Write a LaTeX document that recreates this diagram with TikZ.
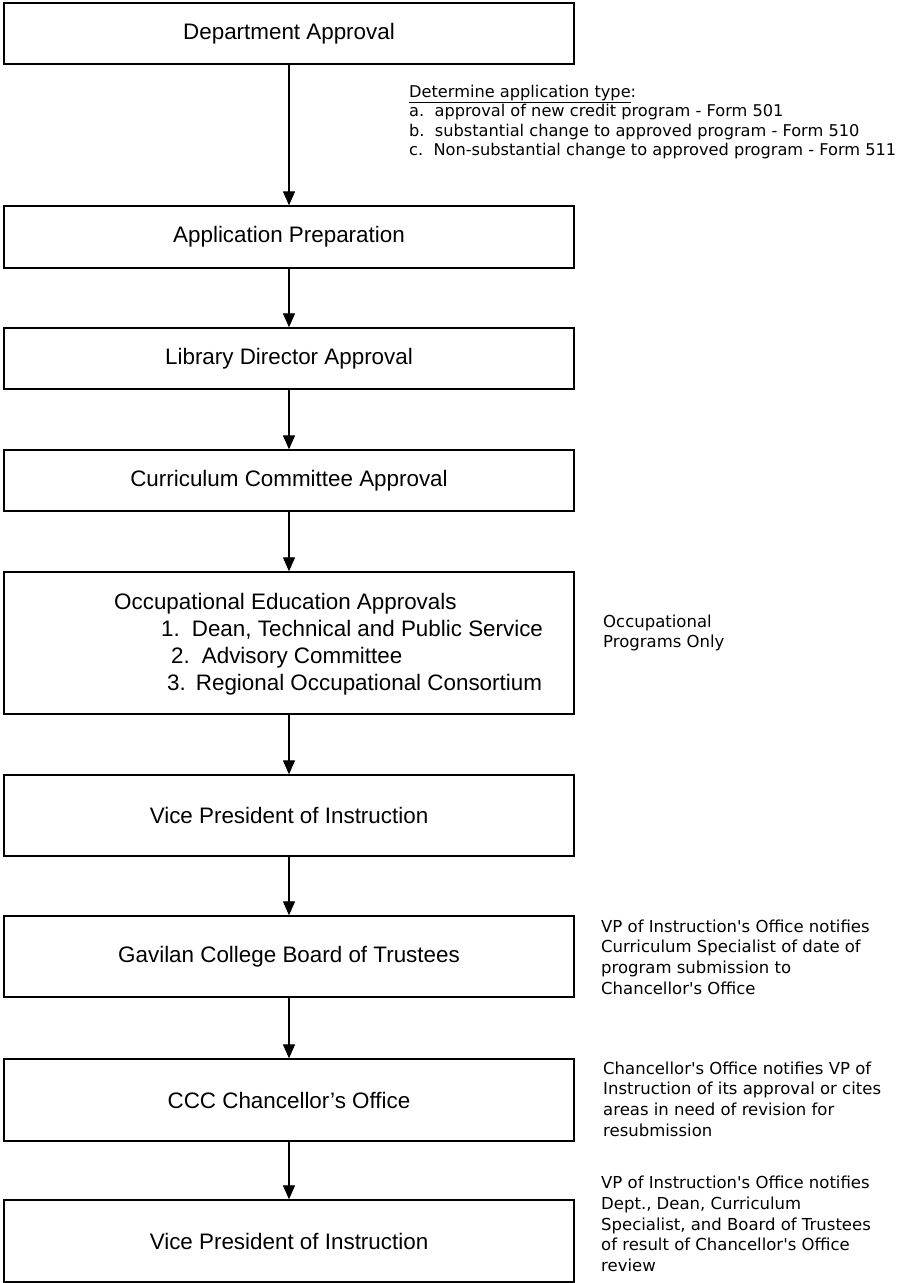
\documentclass[tikz,border=0pt]{standalone}
\usepackage{fontspec}
\setmainfont{Liberation Sans}
\newfontfamily\notefont{DejaVu Sans}
\usetikzlibrary{arrows.meta}
\begin{document}
\begin{tikzpicture}[x=1pt,y=-1pt,
  box/.style={draw=black, line width=1.4pt, minimum width=570pt, inner sep=0pt, font=\fontsize{22.4}{26}\selectfont},
  arr/.style={line width=1.3pt, -{Triangle[length=14pt,width=12pt]}},
  note/.style={anchor=west, align=left, inner sep=0pt, font=\notefont\fontsize{16.5}{20.7}\selectfont}]
\useasboundingbox (0,0) rectangle (909,1283);
\fill[white] (0,0) rectangle (909,1283);
\node[box, minimum height=61pt] (b1) at (289,33.5) {Department Approval};
\node[box, minimum height=62pt] (b2) at (289,237) {Application Preparation};
\node[box, minimum height=61pt] (b3) at (289,358.5) {Library Director Approval};
\node[box, minimum height=61pt] (b4) at (289,480.5) {Curriculum Committee Approval};
\node[box, minimum height=142pt] (b5) at (289,643) {};
\node[anchor=west, align=left, inner sep=0pt, font=\fontsize{22.4}{26.8}\selectfont] (b5t) at (114,644)
  {Occupational Education Approvals\\
   \hspace*{47pt}1.\hspace{12pt}Dean, Technical and Public Service\\
   \hspace*{57pt}2.\hspace{12pt}Advisory Committee\\
   \hspace*{53pt}3.\hspace{10pt}Regional Occupational Consortium};
\node[box, minimum height=81pt] (b6) at (289,815.5) {Vice President of Instruction};
\node[box, minimum height=81pt] (b7) at (289,956.5) {Gavilan College Board of Trustees};
\node[box, minimum height=82pt] (b8) at (289,1100) {CCC Chancellor's Office};
\node[box, minimum height=82pt] (b9) at (289,1241) {Vice President of Instruction};

\draw[arr] (b1.south) -- (b2.north);
\draw[arr] (b2.south) -- (b3.north);
\draw[arr] (b3.south) -- (b4.north);
\draw[arr] (b4.south) -- (b5.north);
\draw[arr] (b5.south) -- (b6.north);
\draw[arr] (b6.south) -- (b7.north);
\draw[arr] (b7.south) -- (b8.north);
\draw[arr] (b8.south) -- (b9.north);

\node[note, font=\notefont\fontsize{16.2}{19.4}\selectfont] (n1) at (409,122)
  {\underline{Determine application type}:\\
   a.\ \ approval of new credit program - Form 501\\
   b.\ \ substantial change to approved program - Form 510\\
   c.\ \ Non-substantial change to approved program - Form 511};
\node[note] (n2) at (603,633) {Occupational\\Programs Only};
\node[note] (n3) at (601,957) {VP of Instruction's Office notifies\\Curriculum Specialist of date of\\program submission to\\Chancellor's Office};
\node[note] (n4) at (603,1099) {Chancellor's Office notifies VP of\\Instruction of its approval or cites\\areas in need of revision for\\resubmission};
\node[note] (n5) at (601,1224) {VP of Instruction's Office notifies\\Dept., Dean, Curriculum\\Specialist, and Board of Trustees\\of result of Chancellor's Office\\review};
\end{tikzpicture}
\end{document}
